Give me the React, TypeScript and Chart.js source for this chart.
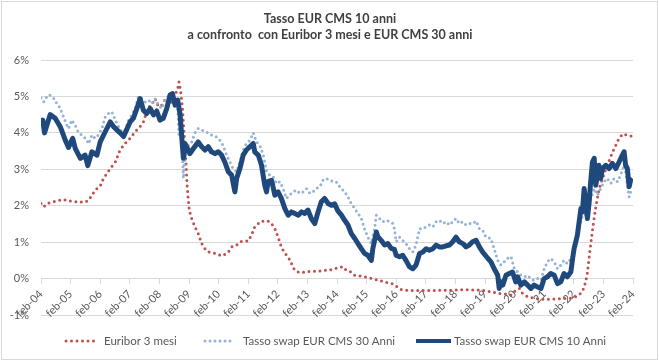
import React, { useEffect, useRef } from 'react';
import { Chart, registerables } from 'chart.js';

Chart.register(...registerables);

// Etichette dell'asse X (un tick ogni febbraio)
const tickLabels = [
  'feb-04', 'feb-05', 'feb-06', 'feb-07', 'feb-08', 'feb-09', 'feb-10', 'feb-11',
  'feb-12', 'feb-13', 'feb-14', 'feb-15', 'feb-16', 'feb-17', 'feb-18', 'feb-19',
  'feb-20', 'feb-21', 'feb-22', 'feb-23', 'feb-24',
];

const titleLines = ['Tasso EUR CMS 10 anni', 'a confronto  con Euribor 3 mesi e EUR CMS 30 anni'];

// Serie: anni trascorsi da feb-04 e valori in %
const euriborAnni = [
  0, 0.09, 0.2, 0.37, 0.54, 0.76, 0.93, 1.1, 1.27, 1.49, 1.61, 1.72, 1.83, 2.0, 2.11, 2.22,
  2.34, 2.51, 2.67, 2.84, 3.01, 3.18, 3.35, 3.46, 3.57, 3.69, 3.8, 3.85, 3.97, 4.08, 4.19, 4.3,
  4.42, 4.53, 4.62, 4.66, 4.72, 4.78, 4.83, 4.89, 4.94, 5.0, 5.05, 5.09, 5.2, 5.31, 5.43, 5.54,
  5.65, 5.82, 5.99, 6.1, 6.21, 6.33, 6.44, 6.61, 6.72, 6.89, 7.0, 7.11, 7.22, 7.34, 7.45, 7.56,
  7.67, 7.79, 7.9, 8.01, 8.12, 8.24, 8.35, 8.46, 8.57, 8.69, 8.8, 8.91, 9.08, 9.25, 9.42, 9.58,
  9.75, 9.87, 10.0, 10.2, 10.31, 10.48, 10.6, 10.76, 10.93, 11.1, 11.27, 11.44, 11.61, 11.78, 11.94, 12.06,
  12.17, 12.34, 12.51, 12.84, 13.18, 13.52, 13.85, 14.19, 14.53, 14.87, 15.2, 15.43, 15.65, 15.88, 16.04, 16.16,
  16.27, 16.44, 16.66, 16.89, 17.11, 17.34, 17.56, 17.78, 17.96, 18.12, 18.24, 18.35, 18.45, 18.55, 18.65, 18.75,
  18.85, 18.95, 19.08, 19.3, 19.5, 19.65, 19.8, 19.98,
];
const euriborValori = [
  2.06, 1.97, 2.06, 2.1, 2.13, 2.17, 2.13, 2.12, 2.1, 2.1, 2.15, 2.29, 2.43, 2.54, 2.75, 2.88,
  3.02, 3.2, 3.53, 3.71, 3.85, 4.03, 4.17, 4.3, 4.58, 4.76, 4.85, 4.94, 4.72, 4.76, 4.9, 4.76,
  4.85, 5.04, 5.22, 5.4, 5.13, 4.67, 4.03, 3.3, 2.5, 1.95, 1.75, 1.65, 1.42, 1.24, 0.96, 0.82,
  0.73, 0.71, 0.66, 0.62, 0.66, 0.73, 0.87, 0.92, 1.01, 1.03, 1.03, 1.19, 1.42, 1.51, 1.58, 1.56,
  1.58, 1.51, 1.37, 1.14, 0.87, 0.69, 0.6, 0.41, 0.23, 0.18, 0.16, 0.18, 0.2, 0.2, 0.21, 0.23,
  0.23, 0.27, 0.29, 0.33, 0.23, 0.18, 0.09, 0.07, 0.05, 0.02, -0.02, -0.05, -0.09, -0.13, -0.16, -0.25,
  -0.3, -0.32, -0.33, -0.33, -0.33, -0.32, -0.32, -0.31, -0.31, -0.32, -0.36, -0.4, -0.42, -0.45, -0.32, -0.27,
  -0.41, -0.5, -0.54, -0.57, -0.57, -0.56, -0.55, -0.55, -0.53, -0.48, -0.4, -0.25, 0.1, 0.8, 1.45, 2.0,
  2.45, 2.7, 3.0, 3.45, 3.8, 3.97, 3.94, 3.9,
];

const cms30Anni = [
  0, 0.09, 0.15, 0.28, 0.43, 0.54, 0.65, 0.76, 0.88, 0.93, 1.04, 1.16, 1.27, 1.38, 1.49, 1.61,
  1.72, 1.83, 1.94, 2.06, 2.17, 2.28, 2.39, 2.51, 2.62, 2.73, 2.84, 2.96, 3.07, 3.18, 3.29, 3.4,
  3.52, 3.63, 3.74, 3.85, 3.97, 4.08, 4.19, 4.3, 4.42, 4.53, 4.62, 4.66, 4.75, 4.81, 4.87, 4.98,
  5.09, 5.2, 5.31, 5.43, 5.54, 5.65, 5.76, 5.93, 6.04, 6.15, 6.27, 6.38, 6.49, 6.61, 6.72, 6.83,
  6.94, 7.06, 7.17, 7.28, 7.39, 7.51, 7.62, 7.73, 7.84, 7.96, 8.07, 8.18, 8.29, 8.4, 8.52, 8.63,
  8.74, 8.85, 8.97, 9.08, 9.19, 9.3, 9.42, 9.53, 9.64, 9.75, 9.87, 9.98, 10.05, 10.15, 10.26, 10.37,
  10.48, 10.6, 10.71, 10.82, 10.93, 11.04, 11.16, 11.27, 11.33, 11.44, 11.55, 11.66, 11.78, 11.89, 11.94, 12.0,
  12.11, 12.22, 12.33, 12.45, 12.56, 12.67, 12.79, 12.9, 13.01, 13.12, 13.24, 13.35, 13.46, 13.57, 13.69, 13.8,
  13.91, 14.02, 14.13, 14.25, 14.36, 14.47, 14.58, 14.7, 14.81, 14.92, 15.03, 15.2, 15.31, 15.43, 15.54, 15.65,
  15.76, 15.88, 15.99, 16.1, 16.21, 16.33, 16.44, 16.55, 16.66, 16.78, 16.89, 17.0, 17.11, 17.22, 17.34, 17.45,
  17.56, 17.67, 17.78, 17.9, 18.01, 18.12, 18.24, 18.35, 18.4, 18.46, 18.52, 18.57, 18.69, 18.8, 18.91, 19.02,
  19.13, 19.25, 19.36, 19.47, 19.58, 19.7, 19.75, 19.81, 19.87, 19.92, 19.98,
];
const cms30Valori = [
  4.96, 4.85, 4.94, 5.05, 4.95, 4.8, 4.67, 4.44, 4.2, 4.12, 4.35, 4.2, 4.0, 3.94, 3.86, 3.7,
  3.94, 3.85, 3.94, 4.12, 4.44, 4.53, 4.58, 4.35, 4.17, 4.03, 4.08, 4.35, 4.49, 4.67, 5.0, 4.94,
  4.85, 4.9, 4.8, 4.94, 4.76, 4.67, 4.9, 5.0, 5.04, 4.85, 4.67, 3.94, 4.03, 2.75, 3.3, 3.66,
  3.75, 4.0, 4.12, 4.08, 4.03, 4.0, 3.94, 3.89, 3.8, 3.66, 3.39, 3.2, 3.02, 2.93, 3.2, 3.53,
  3.71, 3.8, 4.0, 3.75, 3.66, 3.39, 2.93, 2.84, 2.8, 2.61, 2.66, 2.47, 2.2, 2.29, 2.38, 2.43,
  2.34, 2.38, 2.47, 2.34, 2.38, 2.47, 2.52, 2.7, 2.75, 2.7, 2.66, 2.65, 2.56, 2.47, 2.38, 2.24,
  2.06, 1.92, 1.79, 1.65, 1.37, 1.14, 0.96, 1.37, 1.74, 1.65, 1.56, 1.6, 1.56, 1.51, 1.37, 1.01,
  1.14, 1.05, 0.96, 0.82, 0.73, 0.92, 1.37, 1.37, 1.42, 1.47, 1.42, 1.56, 1.6, 1.51, 1.56, 1.47,
  1.56, 1.65, 1.51, 1.56, 1.47, 1.51, 1.51, 1.58, 1.37, 1.33, 1.14, 1.1, 0.82, 0.5, 0.37, 0.46,
  0.55, 0.6, 0.27, 0.18, 0.09, 0.05, 0.09, 0.0, -0.05, 0.0, -0.05, 0.27, 0.46, 0.55, 0.46, 0.27,
  0.37, 0.5, 0.41, 0.55, 0.73, 1.1, 1.56, 1.92, 1.74, 1.56, 1.83, 2.2, 2.47, 2.29, 2.47, 2.66,
  2.75, 2.61, 2.75, 2.66, 2.84, 3.11, 2.93, 2.56, 2.24, 2.38, 2.47,
];

const cms10Anni = [
  0, 0.06, 0.12, 0.31, 0.48, 0.65, 0.82, 0.93, 1.07, 1.16, 1.33, 1.49, 1.58, 1.72, 1.89, 2.0,
  2.17, 2.34, 2.45, 2.67, 2.79, 3.01, 3.12, 3.24, 3.35, 3.46, 3.57, 3.69, 3.8, 3.91, 4.02, 4.13,
  4.25, 4.36, 4.44, 4.53, 4.62, 4.7, 4.75, 4.81, 4.87, 5.03, 5.15, 5.31, 5.43, 5.54, 5.65, 5.76,
  5.88, 5.99, 6.1, 6.21, 6.33, 6.44, 6.55, 6.61, 6.72, 6.83, 6.94, 7.06, 7.17, 7.22, 7.34, 7.45,
  7.56, 7.62, 7.67, 7.79, 7.9, 8.01, 8.12, 8.24, 8.35, 8.46, 8.57, 8.69, 8.8, 8.91, 9.02, 9.13,
  9.25, 9.36, 9.47, 9.58, 9.7, 9.81, 9.92, 10.03, 10.15, 10.26, 10.37, 10.48, 10.6, 10.71, 10.82, 10.93,
  11.04, 11.16, 11.21, 11.33, 11.38, 11.49, 11.61, 11.72, 11.83, 11.94, 12.0, 12.11, 12.22, 12.33, 12.45, 12.56,
  12.67, 12.79, 12.9, 13.01, 13.12, 13.24, 13.35, 13.46, 13.57, 13.69, 13.8, 13.91, 14.02, 14.13, 14.25, 14.36,
  14.47, 14.58, 14.7, 14.81, 14.92, 15.03, 15.1, 15.2, 15.31, 15.43, 15.48, 15.54, 15.6, 15.71, 15.82, 15.93,
  16.04, 16.1, 16.21, 16.33, 16.44, 16.55, 16.66, 16.78, 16.89, 17.0, 17.11, 17.22, 17.34, 17.45, 17.56, 17.67,
  17.78, 17.9, 17.96, 18.01, 18.12, 18.18, 18.24, 18.29, 18.35, 18.4, 18.46, 18.52, 18.57, 18.63, 18.69, 18.74,
  18.8, 18.85, 18.91, 18.97, 19.08, 19.19, 19.3, 19.42, 19.53, 19.64, 19.7, 19.75, 19.81, 19.87, 19.92, 19.98,
];
const cms10Valori = [
  4.26, 4.35, 4.0, 4.5, 4.4, 4.17, 3.8, 3.6, 3.85, 3.57, 3.3, 3.39, 3.1, 3.48, 3.39, 3.75,
  4.03, 4.3, 4.17, 4.0, 3.9, 4.3, 4.4, 4.67, 4.94, 4.62, 4.53, 4.67, 4.49, 4.6, 4.35, 4.4,
  4.67, 5.04, 5.08, 4.76, 4.9, 4.49, 3.94, 3.3, 3.7, 3.43, 3.57, 3.75, 3.62, 3.53, 3.62, 3.48,
  3.43, 3.48, 3.39, 3.2, 2.93, 2.84, 2.38, 2.75, 3.02, 3.39, 3.53, 3.62, 3.71, 3.48, 3.39, 3.11,
  2.56, 2.38, 2.66, 2.7, 2.29, 2.38, 2.2, 1.92, 1.74, 1.83, 1.79, 1.74, 1.83, 1.79, 1.88, 1.65,
  1.51, 1.83, 2.11, 2.2, 2.06, 2.01, 2.05, 1.86, 1.74, 1.6, 1.47, 1.24, 1.1, 0.96, 0.82, 0.69,
  0.64, 0.5, 0.82, 1.28, 1.15, 1.05, 0.92, 0.96, 0.83, 0.8, 0.64, 0.6, 0.64, 0.5, 0.32, 0.27,
  0.37, 0.69, 0.73, 0.82, 0.78, 0.82, 0.92, 0.87, 0.87, 0.9, 0.92, 1.01, 1.14, 1.01, 0.96, 0.87,
  0.92, 1.01, 1.05, 0.87, 0.73, 0.62, 0.55, 0.46, 0.27, 0.09, -0.27, -0.09, -0.18, 0.09, 0.14, 0.18,
  -0.09, 0.05, -0.18, -0.09, -0.18, -0.27, -0.18, -0.23, -0.27, 0.0, 0.05, 0.14, 0.09, -0.14, -0.09, 0.14,
  0.05, 0.18, 0.55, 0.82, 1.19, 1.56, 1.92, 1.83, 2.47, 2.11, 1.65, 2.11, 2.66, 3.2, 3.3, 2.56,
  2.84, 3.11, 2.75, 3.02, 3.11, 3.02, 3.16, 3.02, 3.2, 3.39, 3.48, 3.11, 3.02, 2.52, 2.7, 2.75,
];

const seriesNames = ['Euribor 3 mesi', 'Tasso swap EUR CMS 30 Anni', 'Tasso swap EUR CMS 10 Anni'];

const toPoints = (xs: number[], ys: number[]) => xs.map((x, i) => ({ x, y: ys[i] }));

const FONT = 'Lato, "Open Sans", sans-serif';

const decorPlugin = {
  id: 'decor',
  beforeDraw(chart: any) {
    const ctx = chart.ctx;
    ctx.save();
    ctx.fillStyle = '#ffffff';
    ctx.fillRect(0, 0, chart.width, chart.height);
    ctx.strokeStyle = '#D9D9D9';
    ctx.lineWidth = 1;
    ctx.strokeRect(1.5, 1.5, chart.width - 3, chart.height - 3);
    ctx.restore();
  },
  afterDraw(chart: any) {
    const ctx = chart.ctx;
    ctx.save();
    // Titolo
    ctx.fillStyle = '#404040';
    ctx.font = `bold 12.5px ${FONT}`;
    ctx.textAlign = 'center';
    ctx.textBaseline = 'middle';
    ctx.fillText(titleLines[0], 330, 19);
    ctx.fillText(titleLines[1], 330, 35);

    // Legenda
    const items = [
      { x0: 66, x1: 97, tx: 104 },
      { x0: 205, x1: 234, tx: 243 },
      { x0: 416, x1: 451, tx: 454 },
    ];
    const y = 341;
    chart.data.datasets.forEach((ds: any, i: number) => {
      const it = items[i];
      ctx.save();
      ctx.strokeStyle = ds.borderColor;
      ctx.lineWidth = Math.min(ds.borderWidth, 4);
      ctx.lineCap = ds.borderCapStyle || 'butt';
      ctx.setLineDash(ds.borderDash || []);
      ctx.beginPath();
      ctx.moveTo(it.x0, y);
      ctx.lineTo(it.x1, y);
      ctx.stroke();
      ctx.restore();
      ctx.fillStyle = '#595959';
      ctx.font = `11.5px ${FONT}`;
      ctx.textAlign = 'left';
      ctx.textBaseline = 'middle';
      ctx.fillText(ds.label, it.tx, y);
    });
    ctx.restore();
  },
};

export default function App() {
  const ref = useRef<HTMLCanvasElement | null>(null);

  useEffect(() => {
    if (!ref.current) return;
    const chart = new Chart(ref.current, {
      type: 'line',
      data: {
        datasets: [
          {
            label: seriesNames[0],
            data: toPoints(euriborAnni, euriborValori),
            borderColor: '#C0504D',
            borderWidth: 3,
            borderDash: [0, 5.5],
            borderCapStyle: 'round',
            pointRadius: 0,
            tension: 0,
            order: 2,
          },
          {
            label: seriesNames[1],
            data: toPoints(cms30Anni, cms30Valori),
            borderColor: '#95B3D7',
            borderWidth: 3,
            borderDash: [0, 5],
            borderCapStyle: 'round',
            pointRadius: 0,
            tension: 0,
            order: 1,
          },
          {
            label: seriesNames[2],
            data: toPoints(cms10Anni, cms10Valori),
            borderColor: '#1F497D',
            borderWidth: 5,
            borderCapStyle: 'butt',
            borderJoinStyle: 'round',
            pointRadius: 0,
            tension: 0,
            order: 0,
          },
        ],
      },
      options: {
        responsive: false,
        animation: false,
        events: [],
        layout: { padding: { top: 60, right: 26, bottom: 46, left: 0 } },
        plugins: {
          legend: { display: false },
          title: { display: false },
          tooltip: { enabled: false },
        },
        scales: {
          x: {
            type: 'linear',
            position: { y: 0 } as any,
            min: 0,
            max: 20,
            ticks: {
              stepSize: 1,
              autoSkip: false,
              minRotation: 45,
              maxRotation: 45,
              padding: 4,
              color: '#595959',
              font: { family: FONT, size: 11 },
              callback: (v: any) => tickLabels[Math.round(Number(v))] ?? '',
            },
            grid: {
              drawOnChartArea: false,
              drawTicks: true,
              tickLength: 5,
              color: '#D9D9D9',
            },
            border: { display: true, color: '#D9D9D9' },
          },
          y: {
            type: 'linear',
            min: -1,
            max: 6,
            ticks: {
              stepSize: 1,
              padding: 12,
              color: '#595959',
              font: { family: FONT, size: 11 },
              callback: (v: any) => `${v}%`,
            },
            grid: { color: '#D9D9D9', drawTicks: false },
            border: { display: false },
            afterFit: (scale: any) => {
              scale.width = 41;
            },
          },
        },
      },
      plugins: [decorPlugin],
    } as any);
    return () => chart.destroy();
  }, []);

  return (
    <div style={{ position: 'fixed', left: 0, top: 0, width: 659, height: 361, background: '#fff' }}>
      <canvas ref={ref} width={659} height={361} style={{ display: 'block', width: 659, height: 361 }} />
    </div>
  );
}
